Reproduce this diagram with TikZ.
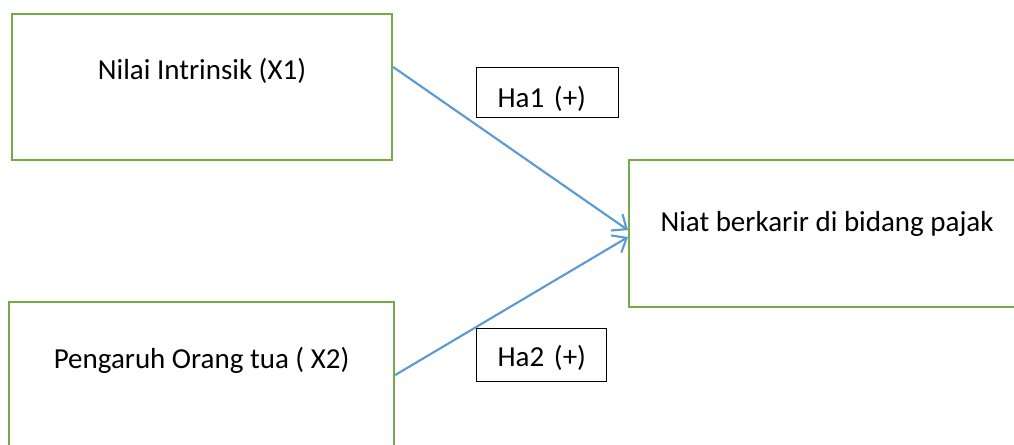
\documentclass[tikz,border=0pt]{standalone}
\usepackage{fontspec}
\setmainfont{Carlito}
\usetikzlibrary{arrows.meta}
\definecolor{boxgreen}{RGB}{112,173,71}
\definecolor{arrowblue}{RGB}{91,155,213}

\begin{document}
\begin{tikzpicture}[x=0.75pt, y=-0.75pt,
    varbox/.style={draw=boxgreen, line width=1.6pt, inner sep=0pt, anchor=north west,
      font=\fontsize{21.75}{26}\selectfont},
    hypbox/.style={draw=black, line width=1pt, inner sep=0pt, align=left, anchor=north west,
      execute at begin node=\hspace*{15.75pt}, font=\fontsize{21.75}{26}\selectfont},
    link/.style={draw=arrowblue, line width=1.6pt, -{Straight Barb[length=9pt, width=15pt]}}]
  \useasboundingbox (0,0) rectangle (1014,444);
  %
  \node[varbox, minimum width=285pt, text height=48.75pt, text depth=60.75pt]
    (x1) at (11,13) {Nilai Intrinsik (X1)};           % first variable
  \node[varbox, minimum width=288.75pt, text height=49.5pt, text depth=60pt]
    (x2) at (8,301) {Pengaruh Orang tua ( X2)};       % second variable
  \node[varbox, minimum width=297pt, text height=53.25pt, text depth=57pt]
    (y) at (628,159) {Niat berkarir di bidang pajak}; % dependent
  %
  \node[hypbox, text width=106.5pt, text height=30pt, text depth=7.5pt]
    (ha1) at (476,67) {Ha1 (+)};                       % hypotheses
  \node[hypbox, text width=97.5pt, text height=28.5pt, text depth=11.25pt]
    (ha2) at (476,328) {Ha2 (+)};
  %
  \draw[link] ([yshift=-40.5pt]x1.north east) -- ([yshift=2.6pt]y.west);
  \draw[link] (x2.east) -- ([yshift=-2.6pt]y.west);
  %
\end{tikzpicture}
\end{document}
